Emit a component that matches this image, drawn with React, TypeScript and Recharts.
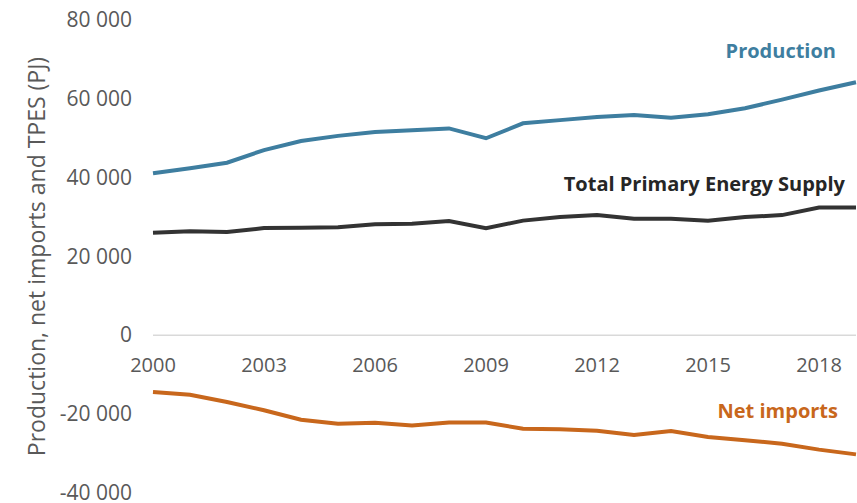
import React from "react";
import { LineChart, Line, XAxis, YAxis, ReferenceLine, LabelList } from "recharts";

const years = [2000, 2001, 2002, 2003, 2004, 2005, 2006, 2007, 2008, 2009, 2010, 2011, 2012, 2013, 2014, 2015, 2016, 2017, 2018, 2019];
const production = [41100, 42400, 43800, 47000, 49300, 50600, 51600, 52000, 52500, 50000, 53800, 54600, 55400, 55900, 55200, 56100, 57600, 59800, 62100, 64200];
const tpes = [26000, 26400, 26200, 27200, 27300, 27400, 28200, 28300, 29000, 27200, 29100, 30000, 30500, 29600, 29600, 29100, 30000, 30500, 32400, 32400];
const netImports = [-14400, -15100, -16900, -19000, -21400, -22400, -22200, -22900, -22100, -22100, -23700, -23800, -24200, -25300, -24300, -25800, -26600, -27500, -29000, -30200];
const xTicks = [2000, 2003, 2006, 2009, 2012, 2015, 2018];
const yTicks = [-40000, -20000, 0, 20000, 40000, 60000, 80000];
const Y_MIN = -40000;
const Y_MAX = 80000;

const data = years.map((y, i) => ({
  year: y,
  production: production[i],
  tpes: tpes[i],
  netImports: netImports[i],
}));

const W = 857;
const H = 503;
const M_TOP = 20;
const X_AXIS_H = 10;
const PLOT_H = H - M_TOP - X_AXIS_H;
const ZERO_Y = M_TOP + (PLOT_H * Y_MAX) / (Y_MAX - Y_MIN);
const FONT = "'Open Sans', sans-serif";

const fmt = (v: number) => {
  const s = Math.abs(v).toString().replace(/\B(?=(\d{3})+(?!\d))/g, " ");
  return (v < 0 ? "-" : "") + s;
};

const XTick = (props: any) => {
  const { x, payload } = props;
  return (
    <text x={x} y={ZERO_Y + 37} textAnchor="middle" fill="#595959" fontSize={20} fontFamily={FONT}>
      {payload.value}
    </text>
  );
};

const YTick = (props: any) => {
  const { x, y, payload } = props;
  return (
    <text x={x} y={y} dy={7} textAnchor="end" fill="#595959" fontSize={21} fontFamily={FONT}>
      {fmt(payload.value)}
    </text>
  );
};

const makeEndLabel = (text: string, color: string, dx: number, dy: number) => (props: any) => {
  const { x, y, index } = props;
  if (index !== years.length - 1) return null;
  return (
    <text x={x + dx} y={y + dy} textAnchor="end" fill={color} fontSize={20} fontWeight="bold" fontFamily={FONT}>
      {text}
    </text>
  );
};

const YLabel = () => (
  <text
    x={36}
    y={M_TOP + PLOT_H / 2}
    transform={`rotate(-90, 36, ${M_TOP + PLOT_H / 2})`}
    textAnchor="middle"
    dominantBaseline="central"
    fill="#595959"
    fontSize={23}
    fontFamily={FONT}
  >
    Production, net imports and TPES (PJ)
  </text>
);

export default function App() {
  return (
    <div style={{ position: "absolute", left: 0, top: 0, width: W, height: H, background: "#fff" }}>
      <LineChart width={W} height={H} data={data} margin={{ top: M_TOP, right: 1, bottom: 0, left: 0 }}>
        <XAxis
          dataKey="year"
          type="number"
          domain={[2000, 2019]}
          ticks={xTicks}
          axisLine={false}
          tickLine={false}
          height={X_AXIS_H}
          tick={<XTick />}
          interval={0}
        />
        <YAxis
          domain={[Y_MIN, Y_MAX]}
          ticks={yTicks}
          width={153}
          axisLine={false}
          tickLine={false}
          tickSize={0}
          tickMargin={21}
          tick={<YTick />}
          interval={0}
          label={<YLabel />}
        />
        <ReferenceLine y={0} stroke="#d9d9d9" strokeWidth={1.5} />
        <Line dataKey="production" stroke="#3e7ea0" strokeWidth={4} dot={false} isAnimationActive={false}>
          <LabelList content={makeEndLabel("Production", "#3e7ea0", -20, -24)} />
        </Line>
        <Line dataKey="tpes" stroke="#333333" strokeWidth={4} dot={false} isAnimationActive={false}>
          <LabelList content={makeEndLabel("Total Primary Energy Supply", "#262626", -11, -17)} />
        </Line>
        <Line dataKey="netImports" stroke="#c8671c" strokeWidth={4} dot={false} isAnimationActive={false}>
          <LabelList content={makeEndLabel("Net imports", "#c8671c", -18, -36)} />
        </Line>
      </LineChart>
    </div>
  );
}
